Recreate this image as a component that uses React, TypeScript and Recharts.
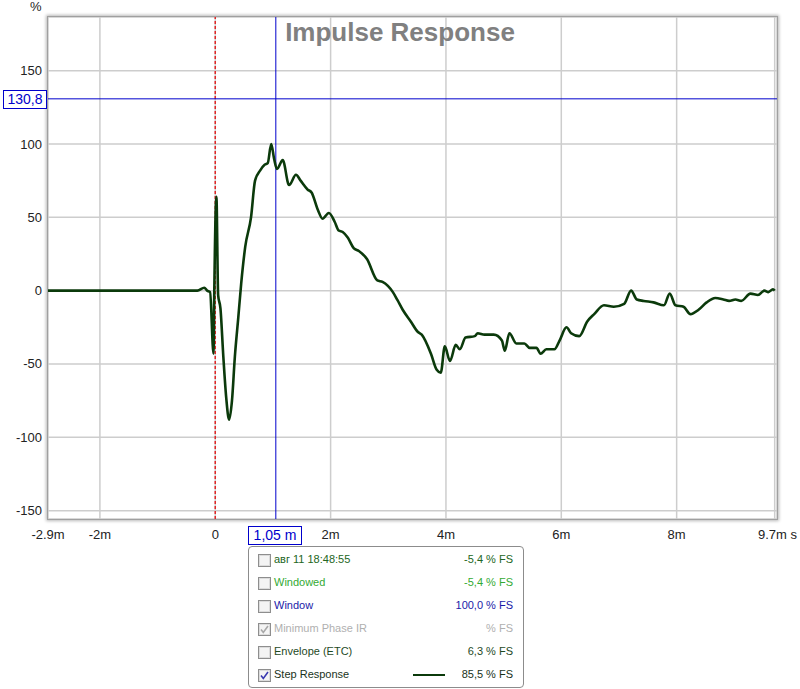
import { CartesianGrid, Line, LineChart, ReferenceLine, XAxis, YAxis } from "recharts";

// time axis in ms, step response in % FS
const TIME_MS = [
  -2.9, -0.31, -0.19, -0.14, -0.09, -0.03, -0.02, 0.02, 0.05, 0.09, 0.14, 0.19, 0.24, 0.29,
  0.34, 0.4, 0.45, 0.52, 0.62, 0.69, 0.78, 0.86, 0.91, 0.97, 1.02, 1.07, 1.17, 1.28, 1.4,
  1.48, 1.6, 1.67, 1.78, 1.86, 1.97, 2.07, 2.14, 2.21, 2.3, 2.4, 2.49, 2.63, 2.81, 2.9,
  3.08, 3.16, 3.25, 3.39, 3.51, 3.58, 3.74, 3.84, 3.91, 3.98, 4.07, 4.17, 4.24, 4.34, 4.5,
  4.55, 4.67, 4.83, 4.97, 5.02, 5.1, 5.22, 5.36, 5.45, 5.57, 5.64, 5.74, 5.88, 5.97, 6.09,
  6.17, 6.31, 6.45, 6.57, 6.74, 6.91, 7.09, 7.21, 7.31, 7.43, 7.6, 7.78, 7.88, 7.98, 8.12,
  8.24, 8.38, 8.52, 8.67, 8.81, 8.91, 9.02, 9.12, 9.28, 9.41, 9.52, 9.59, 9.67, 9.7,
];
const STEP_PCT = [
  0, 0, 2, 0, -1, -43, -10, 64, -3, -12, -45, -73, -88, -75,
  -45, -18, 5, 30, 50, 75, 82, 86, 87, 100, 90, 83, 89, 72, 79,
  75, 69, 67, 55, 49, 53, 47, 41, 40, 36, 29, 27, 21.6, 7, 6,
  -1, -6.5, -13, -21, -28, -30, -43, -54, -56, -38, -48, -37, -40, -32, -31,
  -29, -30, -30, -34, -41, -29, -36, -36, -39, -39, -43, -40, -40, -34, -25,
  -29, -31, -21, -16, -10, -11, -9, 0, -6, -7, -8, -10, -2, -10, -11,
  -16, -13, -8, -5, -6, -7, -6, -7, -2, -3, 0, -1, 1, 0,
];

const X_TICKS = [-2.9, -2, 0, 2, 4, 6, 8, 9.7];
const X_LABELS = ["-2.9m", "-2m", "0", "2m", "4m", "6m", "8m", "9.7m s"];
const Y_TICKS = [-150, -100, -50, 0, 50, 100, 150];

const CURSOR_X = 1.05;
const CURSOR_Y = 130.8;

const LEGEND_ROWS = [
  { label: "авг 11 18:48:55", value: "-5,4 % FS", color: "#226622", checked: false, dim: false, line: false },
  { label: "Windowed", value: "-5,4 % FS", color: "#33aa33", checked: false, dim: false, line: false },
  { label: "Window", value: "100,0 % FS", color: "#1a1aa8", checked: false, dim: false, line: false },
  { label: "Minimum Phase IR", value: "% FS", color: "#b0b0b0", checked: true, dim: true, line: false },
  { label: "Envelope (ETC)", value: "6,3 % FS", color: "#1f4a1f", checked: false, dim: false, line: false },
  { label: "Step Response", value: "85,5 % FS", color: "#1a331a", checked: true, dim: false, line: true },
];

const data = TIME_MS.map((t, i) => ({ t, v: STEP_PCT[i] }));

const FONT = "'Liberation Sans', Arial, sans-serif";
const BLUE = "#0000cc";
const LINE_COLOR = "#0b3a0b";

function Checkbox(props: { checked: boolean; dim: boolean }) {
  return (
    <svg width={13} height={13} style={{ position: "absolute", left: 9, top: -6 }}>
      <rect x={0.5} y={0.5} width={12} height={12} fill="#f4f4f4" stroke="#8e8e8e" />
      <rect x={1.5} y={1.5} width={10} height={10} fill="none" stroke="#dcdcdc" />
      {props.checked ? (
        <path
          d="M3 6.5 L5.3 9.5 L10 3"
          fill="none"
          stroke={props.dim ? "#a8a8a8" : "#3a3ab0"}
          strokeWidth={1.6}
        />
      ) : null}
    </svg>
  );
}

export default function App() {
  return (
    <div style={{ position: "absolute", left: 0, top: 0, width: 800, height: 689, background: "#fff", fontFamily: FONT }}>
      <LineChart width={800} height={689} data={data} margin={{ top: 17, right: 23, left: 0, bottom: 0 }}>
        <CartesianGrid stroke="#cdcdcd" strokeWidth={1.5} />
        <XAxis
          dataKey="t"
          type="number"
          domain={[-2.9, 9.74]}
          allowDataOverflow
          ticks={X_TICKS}
          interval={0}
          height={170}
          axisLine={false}
          tickLine={false}
          tick={(p: any) => {
            const i = X_TICKS.indexOf(p.payload.value);
            const last = i === X_TICKS.length - 1;
            return (
              <text
                x={last ? 797 : p.x}
                y={539}
                textAnchor={last ? "end" : "middle"}
                fontSize={13}
                fontFamily={FONT}
                fill="#222"
              >
                {X_LABELS[i]}
              </text>
            );
          }}
        />
        <YAxis
          type="number"
          domain={[-155.7, 186.6]}
          allowDataOverflow
          ticks={Y_TICKS}
          interval={0}
          width={48}
          axisLine={false}
          tickLine={false}
          tick={(p: any) => (
            <text x={42} y={p.y} dy={4.5} textAnchor="end" fontSize={13} fontFamily={FONT} fill="#222">
              {p.payload.value}
            </text>
          )}
        />
        <ReferenceLine x={0} stroke="#e02828" strokeDasharray="3 2" strokeWidth={1.5} />
        <ReferenceLine x={CURSOR_X} stroke={BLUE} strokeWidth={1} />
        <ReferenceLine y={CURSOR_Y} stroke={BLUE} strokeWidth={1} />
        <Line
          type="monotone"
          dataKey="v"
          stroke={LINE_COLOR}
          strokeWidth={2.6}
          strokeLinejoin="round"
          dot={false}
          activeDot={false}
          isAnimationActive={false}
        />
      </LineChart>

      {/* plot frame */}
      <div
        style={{
          position: "absolute",
          left: 47,
          top: 16,
          width: 729,
          height: 502,
          border: "1px solid #a0a0a0",
          boxShadow: "0 0 3px 1px rgba(0,0,0,0.28)",
          pointerEvents: "none",
        }}
      />

      <div style={{ position: "absolute", left: 30, top: -1, fontSize: 13, color: "#222" }}>%</div>

      <div
        style={{
          position: "absolute",
          left: 0,
          width: 800,
          top: 17,
          textAlign: "center",
          fontSize: 26,
          fontWeight: "bold",
          color: "#808080",
        }}
      >
        Impulse Response
      </div>

      {/* cursor readouts */}
      <div
        style={{
          position: "absolute",
          left: 3,
          top: 90,
          width: 42,
          height: 17,
          border: `1px solid ${BLUE}`,
          background: "#fff",
          color: BLUE,
          fontSize: 14,
          lineHeight: "17px",
          textAlign: "center",
        }}
      >
        130,8
      </div>
      <div
        style={{
          position: "absolute",
          left: 248,
          top: 526,
          width: 52,
          height: 17,
          border: `1px solid ${BLUE}`,
          background: "#fff",
          color: BLUE,
          fontSize: 14,
          lineHeight: "17px",
          textAlign: "center",
        }}
      >
        1,05 m
      </div>

      {/* legend panel */}
      <div
        style={{
          position: "absolute",
          left: 248,
          top: 546,
          width: 274,
          height: 140,
          border: "1px solid #8c8c8c",
          borderRadius: 4,
          background: "#fff",
        }}
      >
        {LEGEND_ROWS.map((row, i) => (
          <div key={row.label} style={{ position: "absolute", left: 0, top: 13 + i * 23, width: 274, height: 0 }}>
            <Checkbox checked={row.checked} dim={row.dim} />
            <div
              style={{
                position: "absolute",
                left: 25,
                top: -7,
                fontSize: 11,
                lineHeight: "13px",
                color: row.color,
                whiteSpace: "nowrap",
              }}
            >
              {row.label}
            </div>
            {row.line ? (
              <div style={{ position: "absolute", left: 164, top: -1, width: 32, height: 2, background: LINE_COLOR }} />
            ) : null}
            <div
              style={{
                position: "absolute",
                right: 10,
                top: -7,
                fontSize: 11,
                lineHeight: "13px",
                color: row.color,
                whiteSpace: "nowrap",
              }}
            >
              {row.value}
            </div>
          </div>
        ))}
      </div>
    </div>
  );
}
